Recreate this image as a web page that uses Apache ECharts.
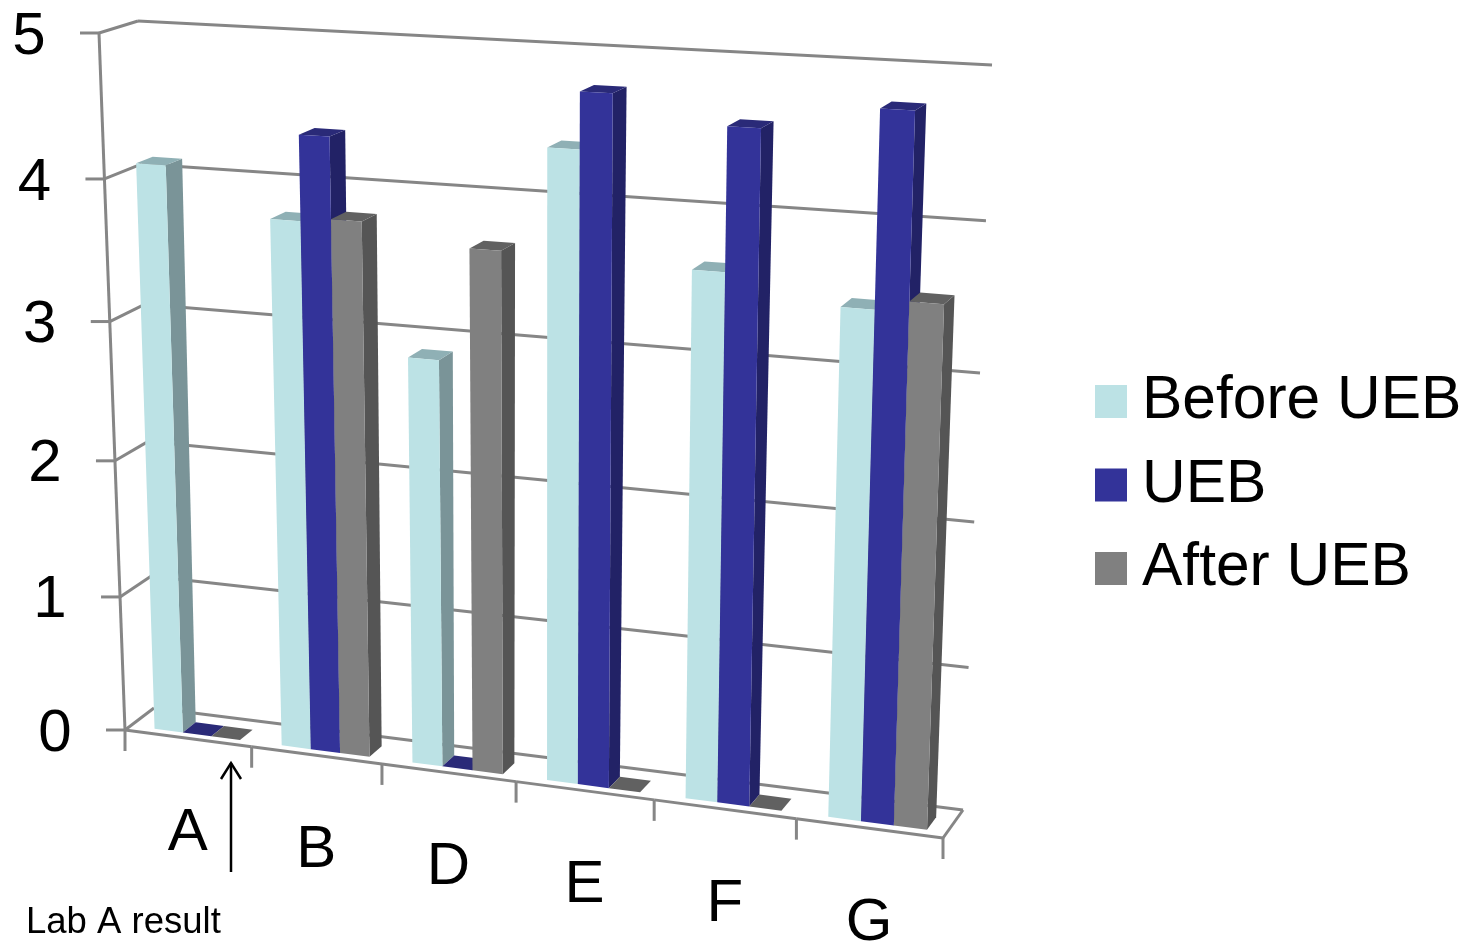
<!DOCTYPE html>
<html><head><meta charset="utf-8">
<style>html,body{margin:0;padding:0;background:#fff}#c{width:1469px;height:947px}</style>
<script src="https://cdn.jsdelivr.net/npm/echarts@6/dist/echarts.min.js"></script>
</head><body><div id="c"></div>
<script>
const categories = ['A','B','D','E','F','G'];
const valueTicks = [0,1,2,3,4,5];
const beforeUEB = [4.10,3.78,2.90,4.39,3.65,3.48];
const ueb       = [0,4.37,0,4.77,4.60,4.77];
const afterUEB  = [0,3.81,3.68,0,0,3.55];
const seriesNames = ['Before UEB','UEB','After UEB'];
const FONT = '"Liberation Sans", Arial, sans-serif';

// 3-D chart box: screen corners of the front and back planes
const frontPlane = {p00:[125,730], p10:[943,838], p11:[968,80], p01:[99,33]};
const backPlane  = {p00:[154,708], p10:[963,810], p11:[992,65], p01:[138,21]};
function homography(q){
  const [x0,y0]=q.p00,[x1,y1]=q.p10,[x2,y2]=q.p11,[x3,y3]=q.p01;
  const dx1=x1-x2,dx2=x3-x2,dx3=x0-x1+x2-x3,dy1=y1-y2,dy2=y3-y2,dy3=y0-y1+y2-y3;
  const d=dx1*dy2-dx2*dy1, g=(dx3*dy2-dx2*dy3)/d, h=(dx1*dy3-dx3*dy1)/d;
  return [x1-x0+g*x1, x3-x0+h*x3, x0, y1-y0+g*y1, y3-y0+h*y3, y0, g, h];
}
const HF=homography(frontPlane), HB=homography(backPlane);
function ap(H,u,v){const z=H[6]*u+H[7]*v+1;return [(H[0]*u+H[1]*v+H[2])/z,(H[3]*u+H[4]*v+H[5])/z];}
function project(u,v,w){const a=ap(HF,u,v),b=ap(HB,u,v);return [a[0]+(b[0]-a[0])*w,a[1]+(b[1]-a[1])*w];}
function norm(p,cs){return [(p[0]-cs.x)/cs.width,(cs.y+cs.height-p[1])/cs.height];}

const barStart=0.19, barWidth=0.225, depthFront=0.2, depthBack=0.65;
const faceColors=[
 {front:'#bce2e5',side:'#7a9498',top:'#8fb0b5'},
 {front:'#333399',side:'#222266',top:'#2a2a78'},
 {front:'#808080',side:'#555555',top:'#616161'}];
const GRIDC='#868686';

function poly(points,fill){return {type:'polygon',shape:{points},style:{fill,stroke:null}};}
function line(a,b){return {type:'line',shape:{x1:a[0],y1:a[1],x2:b[0],y2:b[1]},style:{stroke:GRIDC,lineWidth:3}};}

function barRenderer(k){
  return function(params,api){
    const cs=params.coordSys, cat=api.value(0), val=api.value(1);
    const c=api.coord([cat,val]), bw=api.size([1,0])[0];
    const x0=c[0]-bw/2+bw*(barStart+k*barWidth), x1=x0+bw*barWidth;
    const [u0,v1]=norm([x0,c[1]],cs), [u1]=norm([x1,c[1]],cs);
    const v0=0, wf=depthFront, wb=depthBack, col=faceColors[k];
    const P=(u,v,w)=>project(u,v,w);
    return {type:'group',children:[
      poly([P(u1,v0,wf),P(u1,v0,wb),P(u1,v1,wb),P(u1,v1,wf)],col.side),
      poly([P(u0,v1,wf),P(u1,v1,wf),P(u1,v1,wb),P(u0,v1,wb)],col.top),
      poly([P(u0,v0,wf),P(u1,v0,wf),P(u1,v1,wf),P(u0,v1,wf)],col.front)
    ]};
  };
}
function gridRenderer(params,api){
  const cs=params.coordSys, tick=api.value(0);
  const c=api.coord([0,tick]);
  const v=norm(c,cs)[1];
  const f=project(0,v,0), b=project(0,v,1), r=project(1,v,1), ch=[];
  ch.push(line(b,r), line(f,b), line([f[0]-19,f[1]],f));
  if(tick<valueTicks[valueTicks.length-1]){
    ch.push(line(f,project(0,norm(api.coord([0,tick+1]),cs)[1],0)));
  }
  ch.push({type:'text',style:{text:String(tick),x:f[0]-70,y:f[1]+4,fill:'#000',font:'60px '+FONT,align:'center',verticalAlign:'middle'}});
  return {type:'group',children:ch};
}
function floorRenderer(params,api){
  const cs=params.coordSys, cat=api.value(0), bw=api.size([1,0])[0];
  const c=api.coord([cat,0]);
  const ul=norm([c[0]-bw/2,c[1]],cs)[0], ur=norm([c[0]+bw/2,c[1]],cs)[0], um=norm(c,cs)[0];
  const a=project(ul,0,0), b=project(ur,0,0), m=project(um,0,0);
  const ch=[line(a,b),line(b,[b[0],b[1]+21])];
  if(cat===0) ch.push(line(a,[a[0],a[1]+21]));
  if(cat===categories.length-1) ch.push(line(b,project(ur,0,1)));
  ch.push({type:'text',style:{text:categories[cat],x:m[0],y:m[1]+95,fill:'#000',font:'60px '+FONT,align:'center',verticalAlign:'middle'}});
  return {type:'group',children:ch};
}

const chart=echarts.init(document.getElementById('c'),null,{renderer:'canvas'});
const seriesData=[beforeUEB,ueb,afterUEB];
chart.setOption({
  animation:false,
  backgroundColor:'#fff',
  grid:{left:100,top:100,width:800,height:700},
  xAxis:{type:'category',data:categories,show:false},
  yAxis:{type:'value',min:0,max:5,interval:1,show:false},
  legend:{
    data:seriesNames,orient:'vertical',left:1095,top:371,padding:0,itemWidth:32,itemHeight:33,itemGap:22.5,
    icon:'rect',selectedMode:false,
    textStyle:{fontFamily:FONT,fontSize:60.5,color:'#000',padding:[8,0,0,10]}
  },
  graphic:[
    {type:'text',left:26,top:904,style:{text:'Lab A result',font:'36.5px '+FONT,fill:'#000'}},
    {type:'polyline',shape:{points:[[231,872],[231,763]]},style:{stroke:'#000',lineWidth:2.5,fill:null}},
    {type:'polyline',shape:{points:[[221,779],[231,763],[241,779]]},style:{stroke:'#000',lineWidth:2.5,fill:null}}
  ],
  series:[
    {type:'custom',name:'walls',silent:true,renderItem:gridRenderer,encode:{y:0},data:valueTicks.map(t=>[t]),z:1,coordinateSystem:'cartesian2d'},
    {type:'custom',name:'floor',silent:true,renderItem:floorRenderer,encode:{x:0},data:categories.map((c,i)=>[i]),z:1,coordinateSystem:'cartesian2d'},
    ...seriesNames.map((n,k)=>({type:'custom',name:n,silent:true,renderItem:barRenderer(k),
      itemStyle:{color:faceColors[k].front},encode:{x:0,y:1},z:2+k,
      data:seriesData[k].map((v,i)=>[i,v])}))
  ]
});
</script></body></html>
